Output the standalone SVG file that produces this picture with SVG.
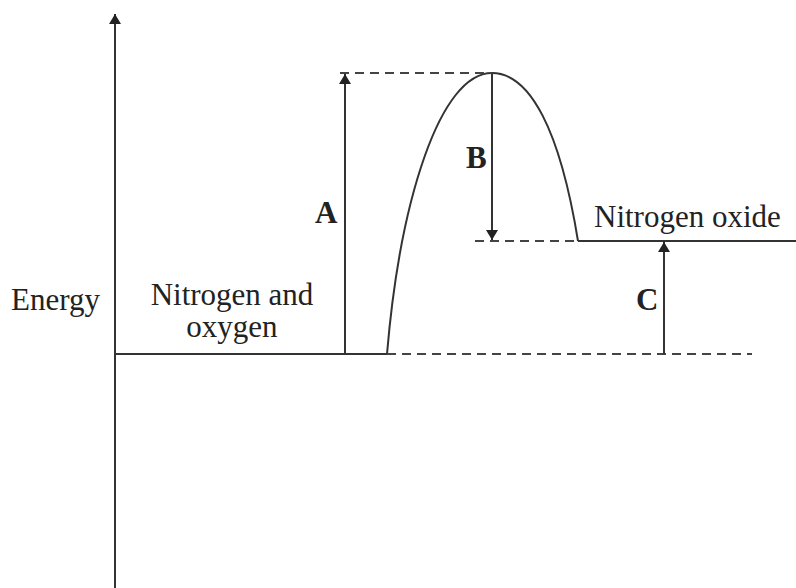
<svg xmlns="http://www.w3.org/2000/svg" width="796" height="588" viewBox="0 0 796 588">
<style>
.ln{stroke:#333;stroke-width:2;fill:none}
.dash{stroke:#444;stroke-width:2;fill:none;stroke-dasharray:9 6}
.t{font-family:"Liberation Serif","Times New Roman",serif;font-size:31px;fill:#222}
.b{font-weight:bold}
</style>
<defs>
<marker id="ah" viewBox="0 0 10 12" refX="10" refY="6" markerWidth="10" markerHeight="12" markerUnits="userSpaceOnUse" orient="auto">
<path d="M0,0 L10,6 L0,12 Z" fill="#222"/>
</marker>
</defs>
<rect width="796" height="588" fill="#fff"/>
<g id="axis">
<line class="ln" x1="115" y1="588" x2="115" y2="14" marker-end="url(#ah)"/>
<text class="t" x="11" y="310">Energy</text>
</g>
<g id="reactants">
<line class="ln" x1="115" y1="354" x2="387" y2="354"/>
<text class="t" x="232" y="305" text-anchor="middle">Nitrogen and</text>
<text class="t" x="232" y="337" text-anchor="middle">oxygen</text>
</g>
<g id="products">
<line class="ln" x1="578" y1="241" x2="796" y2="241"/>
<text class="t" x="594" y="227">Nitrogen oxide</text>
</g>
<g id="curve">
<path class="ln" d="M387,354 C400,200 440,73 492,73 C530,73 560,130 578,241"/>
</g>
<g id="connectors">
<line class="dash" x1="387" y1="354" x2="752" y2="354"/>
<line class="dash" x1="340" y1="73" x2="492" y2="73"/>
<line class="dash" x1="475" y1="241" x2="578" y2="241"/>
<line class="ln" x1="345" y1="354" x2="345" y2="74" marker-end="url(#ah)"/>
<line class="ln" x1="492" y1="74" x2="492" y2="240" marker-end="url(#ah)"/>
<line class="ln" x1="664" y1="354" x2="664" y2="242" marker-end="url(#ah)"/>
</g>
<g id="labels">
<text class="t b" x="315" y="223">A</text>
<text class="t b" x="466" y="168">B</text>
<text class="t b" x="636" y="310">C</text>
</g>
</svg>
